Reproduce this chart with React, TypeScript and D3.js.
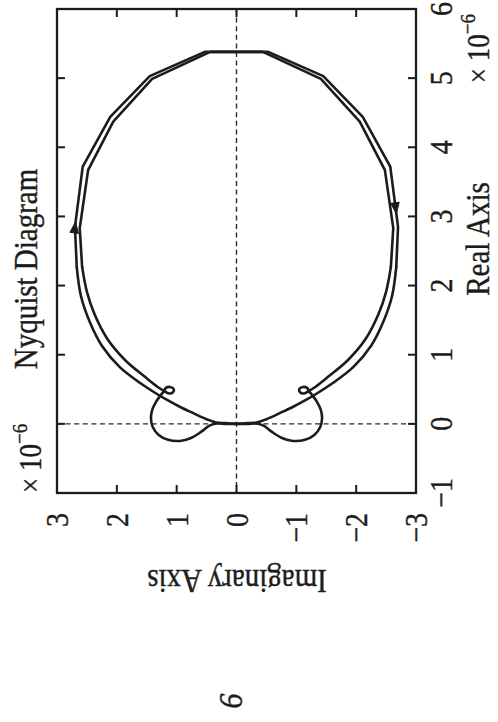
import React from "react";
import * as d3 from "d3";

const W = 498;
const H = 722;

// Nyquist curve, positive-frequency branch, points as [real, imag] in units of 1e-6.
// Lower-left arc leaving the origin.
const riseArc: [number, number][] = [
  [0, 0], [0.01, 0.18], [0.02, 0.34], [0.064, 0.49], [0.158, 0.73], [0.244, 0.94],
  [0.346, 1.16], [0.432, 1.33], [0.59, 1.61], [0.82, 1.95], [1.13, 2.25],
  [1.47, 2.45], [1.85, 2.6], [2.27, 2.67],
];
// Coarsely sampled crest around the top of the plot.
const crestPolygon: [number, number][] = [
  [2.27, 2.67], [2.85, 2.7], [3.72, 2.57], [4.44, 2.11], [5.03, 1.45], [5.38, 0.53],
  [5.38, -0.44], [4.99, -1.41], [4.37, -2.06], [3.67, -2.48], [2.83, -2.62], [2.27, -2.58],
];
// Descending arc on the negative-imaginary side.
const returnArc: [number, number][] = [
  [2.27, -2.58], [1.91, -2.5], [1.58, -2.37], [1.23, -2.16], [0.92, -1.86],
  [0.68, -1.53], [0.53, -1.31],
];
// Small curl and lobe closing back into the origin.
const tailLoop: [number, number][] = [
  [0.53, -1.31], [0.476, -1.21], [0.44, -1.13], [0.46, -1.06], [0.505, -1.05],
  [0.534, -1.11], [0.52, -1.18], [0.476, -1.21], [0.4, -1.28], [0.317, -1.345],
  [0.2, -1.41], [0.085, -1.43], [-0.045, -1.4], [-0.16, -1.3], [-0.23, -1.145],
  [-0.247, -0.944], [-0.204, -0.76], [-0.117, -0.593], [-0.03, -0.46],
  [0.006, -0.34], [0.0, -0.175], [0, 0],
];

// Direction arrows: real coordinate of the tip; branch 0 = positive frequencies, 1 = negative.
const arrowRe = [2.92, 3.04];
const arrowBranch = [0, 1];

const realTicks = [-1, 0, 1, 2, 3, 4, 5, 6];
const imagTicks = [3, 2, 1, 0, -1, -2, -3];

const fmt = (v: number) => (v < 0 ? "\u2212" + Math.abs(v) : String(v));

const FONT = "'Liberation Serif', 'Times New Roman', serif";
const INK = "#1c1c1c";
// glyphs are drawn slightly taller than their natural proportions
const STRETCH = "scale(1,1.15)";

export default function App() {
  const yRe = d3.scaleLinear().domain([-1, 6]).range([493, 9]);
  const xIm = d3.scaleLinear().domain([3, -3]).range([57, 416]);

  const mirror = (pts: [number, number][]) => pts.map(([r, i]) => [r, -i] as [number, number]);
  const toScreen = (pts: [number, number][]) =>
    pts.map(([r, i]) => [xIm(i), yRe(r)] as [number, number]);

  const smooth = d3.line<[number, number]>().curve(d3.curveCatmullRom.alpha(0.5));
  const straight = d3.line<[number, number]>();

  const branches = [
    { rise: riseArc, crest: crestPolygon, fall: [...returnArc, ...tailLoop.slice(1)] },
    { rise: mirror(riseArc), crest: mirror(crestPolygon), fall: mirror([...returnArc, ...tailLoop.slice(1)]) },
  ];

  const paths: string[] = [];
  branches.forEach((b) => {
    paths.push(smooth(toScreen(b.rise)) as string);
    paths.push(straight(toScreen(b.crest)) as string);
    paths.push(smooth(toScreen(b.fall)) as string);
  });

  // Arrowheads placed on the crest polygon of each branch
  const arrows = arrowRe.map((re, k) => {
    const br = arrowBranch[k];
    const poly = branches[br].crest;
    let seg = 0;
    for (let j = 0; j < poly.length - 1; j++) {
      const a = poly[j][0], b = poly[j + 1][0];
      const onSide = br === 0 ? poly[j][1] > 0 : poly[j][1] < 0;
      if (onSide && ((re >= a && re <= b) || (re <= a && re >= b))) { seg = j; break; }
    }
    const p0 = poly[seg], p1 = poly[seg + 1];
    const t = (re - p0[0]) / (p1[0] - p0[0]);
    const im = p0[1] + t * (p1[1] - p0[1]);
    const [tx, ty] = [xIm(im), yRe(re)];
    let dx = xIm(p1[1]) - xIm(p0[1]);
    let dy = yRe(p1[0]) - yRe(p0[0]);
    if (br === 1) { dx = -dx; dy = -dy; }
    const len = Math.hypot(dx, dy);
    dx /= len; dy /= len;
    const L = 11, w = 4.3;
    const bx = tx - dx * L, by = ty - dy * L;
    return `M${tx},${ty}L${bx - dy * w},${by + dx * w}L${bx + dy * w},${by - dx * w}Z`;
  });

  const x0 = xIm(3), x1 = xIm(-3), y0 = yRe(6), y1 = yRe(-1);
  const tickLen = 8;

  return (
    <svg
      width={W}
      height={H}
      viewBox={`0 0 ${W} ${H}`}
      style={{ position: "absolute", left: 0, top: 0, background: "#fff" }}
    >
      <rect x={0} y={0} width={W} height={H} fill="#fff" />

      {/* zero reference lines */}
      <line x1={xIm(0)} x2={xIm(0)} y1={y0} y2={y1} stroke="#2a2a2a" strokeWidth={1.4} strokeDasharray="5,3.6" />
      <line x1={x0} x2={x1} y1={yRe(0)} y2={yRe(0)} stroke="#2a2a2a" strokeWidth={1.4} strokeDasharray="5,3.6" />

      {/* Nyquist curve */}
      {paths.map((d, i) => (
        <path key={i} d={d} fill="none" stroke={INK} strokeWidth={2.6} strokeLinejoin="round" strokeLinecap="round" />
      ))}
      {arrows.map((d, i) => (
        <path key={"a" + i} d={d} fill={INK} stroke={INK} strokeWidth={1} strokeLinejoin="round" />
      ))}

      {/* frame */}
      <rect x={x0} y={y0} width={x1 - x0} height={y1 - y0} fill="none" stroke={INK} strokeWidth={2.3} />

      {/* ticks */}
      {realTicks.slice(1, -1).map((t) => (
        <g key={"rt" + t}>
          <line x1={x0} x2={x0 + tickLen} y1={yRe(t)} y2={yRe(t)} stroke={INK} strokeWidth={2} />
          <line x1={x1} x2={x1 - tickLen} y1={yRe(t)} y2={yRe(t)} stroke={INK} strokeWidth={2} />
        </g>
      ))}
      {imagTicks.slice(1, -1).map((t) => (
        <g key={"it" + t}>
          <line x1={xIm(t)} x2={xIm(t)} y1={y0} y2={y0 + tickLen} stroke={INK} strokeWidth={2} />
          <line x1={xIm(t)} x2={xIm(t)} y1={y1} y2={y1 - tickLen} stroke={INK} strokeWidth={2} />
        </g>
      ))}

      <g fontFamily={FONT} fill={INK} stroke={INK} strokeWidth={0.35}>
        {/* real-axis tick labels */}
        {realTicks.map((t) => (
          <text key={"rl" + t} transform={`translate(452,${yRe(t)}) rotate(-90) ${STRETCH}`} textAnchor="middle" fontSize={28}>
            {fmt(t)}
          </text>
        ))}
        {/* imaginary-axis tick labels */}
        {imagTicks.map((t) => (
          <text
            key={"il" + t}
            transform={`translate(${xIm(t) + 11},513) rotate(-90) ${STRETCH}`}
            textAnchor="end"
            fontSize={28}
          >
            {fmt(t)}
          </text>
        ))}

        <text transform={`translate(37,269) rotate(-90) ${STRETCH}`} textAnchor="middle" fontSize={29}>
          Nyquist Diagram
        </text>
        <text transform={`translate(489,239) rotate(-90) ${STRETCH}`} textAnchor="middle" fontSize={29}>
          Real Axis
        </text>
        <text transform={`translate(237,570) rotate(180) ${STRETCH}`} textAnchor="middle" fontSize={29}>
          Imaginary Axis
        </text>

        <text transform={`translate(489,14) rotate(-90) ${STRETCH}`} textAnchor="end" fontSize={27}>
          {"\u00d7 10"}
          <tspan fontSize={19} dy={-12}>{"\u22126"}</tspan>
        </text>
        <text transform={`translate(41,493) rotate(-90) ${STRETCH}`} textAnchor="start" fontSize={27}>
          {"\u00d7 10"}
          <tspan fontSize={19} dy={-12}>{"\u22126"}</tspan>
        </text>

        <text
          transform={`translate(242,701) rotate(-90) ${STRETCH}`}
          textAnchor="middle"
          fontSize={30}
          fontStyle="italic"
        >
          6
        </text>
      </g>
    </svg>
  );
}
